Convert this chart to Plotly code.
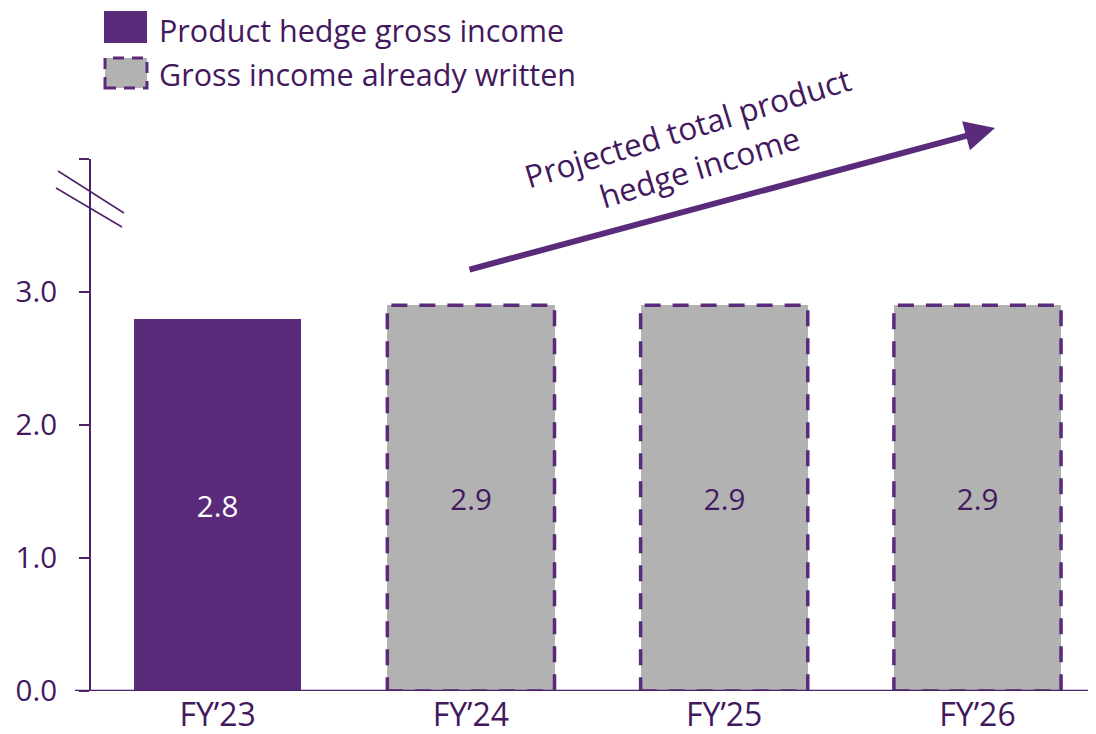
import plotly.graph_objects as go

# ---- data ----
categories = ["FY\u201923", "FY\u201924", "FY\u201925", "FY\u201926"]
actual_values = [2.8, None, None, None]
written_values = [None, 2.9, 2.9, 2.9]
y_tickvals = [0, 1, 2, 3, 4]
y_ticktext = ["0.0", "1.0", "2.0", "3.0", ""]
legend_names = ["Product hedge gross income", "Gross income already written"]
arrow_text = "Projected total product<br>hedge income"

# ---- style ----
PURPLE = "#5a2a7b"
TEXT = "#43195e"
AXIS = "#4e2268"
GREY = "#b2b2b2"
FONT = "Open Sans"
FS_TXT = 31.5
FS_LEG = 30.5
FS_NUM = 29.5
FS_XT = 32
OFF = 8  # page body margin
W, H = 1096 - OFF, 734 - OFF
ML, MR, MT, MB = 91 - OFF, 0, 159 - OFF, 43
BAR_W = 0.66

PW = W - ML - MR
PH = H - MT - MB


def xp(px):
    """reference-window pixel x -> paper"""
    return (px - OFF - ML) / PW


def yp(py):
    """reference-window pixel y -> paper"""
    return (H - MB - (py - OFF)) / PH


fig = go.Figure()

fig.add_trace(go.Bar(
    x=categories, y=actual_values, width=BAR_W,
    marker=dict(color=PURPLE, line=dict(width=0)),
    texttemplate="%{y:.1f}", textposition="inside", insidetextanchor="middle",
    textangle=0, textfont=dict(color="white", size=FS_NUM, family=FONT),
    name=legend_names[0], showlegend=False,
))
fig.add_trace(go.Bar(
    x=categories, y=written_values, width=BAR_W,
    marker=dict(color=GREY, line=dict(width=0)),
    texttemplate="%{y:.1f}", textposition="inside", insidetextanchor="middle",
    textangle=0, textfont=dict(color=TEXT, size=FS_NUM, family=FONT),
    name=legend_names[1], showlegend=False,
))

shapes = []
# dashed outlines on the "already written" bars
for i, v in enumerate(written_values):
    if v is None:
        continue
    shapes.append(dict(type="rect", xref="x", yref="y",
                       x0=i - BAR_W / 2, x1=i + BAR_W / 2, y0=0, y1=v,
                       line=dict(color=PURPLE, width=3.5, dash="16px,12px"),
                       fillcolor="rgba(0,0,0,0)", layer="above"))

# x baseline extending slightly left of the y axis
shapes.append(dict(type="line", xref="paper", yref="y",
                   x0=xp(75), x1=1, y0=0, y1=0,
                   line=dict(color=AXIS, width=2.5), layer="above"))

# axis-break marks
shapes.append(dict(type="line", xref="paper", yref="paper",
                   x0=xp(58), y0=yp(171), x1=xp(124), y1=yp(213),
                   line=dict(color=AXIS, width=1.5)))
shapes.append(dict(type="line", xref="paper", yref="paper",
                   x0=xp(56), y0=yp(188), x1=xp(122), y1=yp(227),
                   line=dict(color=AXIS, width=1.5)))

# custom legend swatches
shapes.append(dict(type="rect", xref="paper", yref="paper",
                   x0=xp(104), x1=xp(147), y0=yp(43), y1=yp(11),
                   fillcolor=PURPLE, line=dict(width=0)))
shapes.append(dict(type="rect", xref="paper", yref="paper",
                   x0=xp(105), x1=xp(147), y0=yp(88), y1=yp(58),
                   fillcolor=GREY, line=dict(color=PURPLE, width=3, dash="11px,8px")))

annotations = [
    dict(x=xp(158), y=yp(30), xref="paper", yref="paper", text=legend_names[0],
         showarrow=False, xanchor="left", yanchor="middle", borderpad=0,
         font=dict(size=FS_LEG, color=TEXT, family=FONT)),
    dict(x=xp(158), y=yp(74), xref="paper", yref="paper", text=legend_names[1],
         showarrow=False, xanchor="left", yanchor="middle", borderpad=0,
         font=dict(size=FS_LEG, color=TEXT, family=FONT)),
    # arrow
    dict(x=xp(995), y=yp(128), xref="paper", yref="paper", text="",
         showarrow=True, ax=468 - 995, ay=270 - 128,
         arrowhead=2, arrowsize=1.0, arrowwidth=6, arrowcolor=PURPLE, standoff=0),
    dict(x=xp(693), y=yp(147), xref="paper", yref="paper", text=arrow_text,
         showarrow=False, textangle=-17, xanchor="center", yanchor="middle",
         font=dict(size=FS_TXT, color=TEXT, family=FONT)),
]

fig.update_layout(
    width=W, height=H,
    margin=dict(l=ML, r=MR, t=MT, b=MB, pad=0),
    plot_bgcolor="white", paper_bgcolor="white",
    barmode="overlay", bargap=0,
    font=dict(family=FONT, color=TEXT, size=FS_TXT),
    shapes=shapes, annotations=annotations,
    showlegend=False,
)
fig.update_xaxes(range=[-0.5, 3.468], showline=False, showgrid=False, zeroline=False,
                 ticks="", tickfont=dict(size=FS_XT, color=TEXT, family=FONT),
                 ticklabelstandoff=2)
fig.update_yaxes(range=[0, 4], tickvals=y_tickvals, ticktext=y_ticktext,
                 showline=True, linecolor=AXIS, linewidth=2, showgrid=False, zeroline=False,
                 ticks="outside", ticklen=10, tickwidth=2, tickcolor=AXIS,
                 tickfont=dict(size=FS_NUM, color=TEXT, family=FONT), ticklabelstandoff=16)

fig.write_html("out.html")
